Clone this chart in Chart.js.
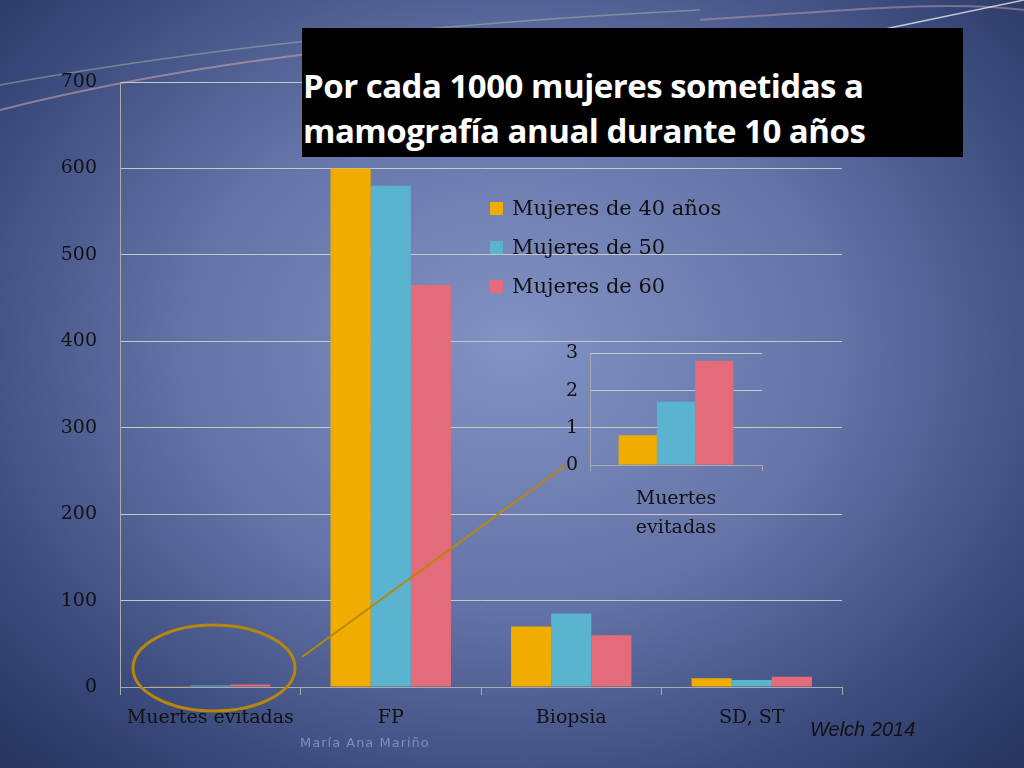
<!DOCTYPE html>
<html><head><meta charset="utf-8">
<script src="https://cdn.jsdelivr.net/npm/chart.js@4/dist/chart.umd.min.js"></script>
<style>
html,body{margin:0;padding:0;}
body{width:1024px;height:768px;overflow:hidden;position:relative;
background:radial-gradient(ellipse 70% 75% at 50% 45%,#8392c4 0%,#6474a8 45%,#3a4a7c 80%,#27355f 100%);}
canvas{position:absolute;}
#title{position:absolute;left:302px;top:28px;width:661px;height:129px;background:#000;color:#fff;
font-family:"Open Sans",sans-serif;font-weight:bold;font-size:33px;letter-spacing:-0.5px;line-height:45px;box-sizing:border-box;padding:35px 0 0 1px;white-space:nowrap;}
#legend{position:absolute;left:490px;top:189px;font-family:"DejaVu Serif",serif;font-size:21px;color:#111;line-height:39px;}
#legend span{display:inline-block;width:13px;height:13px;margin-right:9px;}
#welch{position:absolute;left:810px;top:718px;font-family:"Liberation Sans",sans-serif;font-style:italic;font-size:20px;color:#111;}
#author{position:absolute;left:300px;top:735px;font-family:"DejaVu Sans",sans-serif;font-size:13px;color:#7d8fc0;letter-spacing:1px;}
svg{position:absolute;left:0;top:0;}
</style></head><body>
<svg width="1024" height="768">
<path d="M0,110 C200,60 400,40 600,30" stroke="#c9a0a0" stroke-width="2" fill="none" opacity="0.6"/>
<path d="M0,85 C250,40 500,20 700,10" stroke="#a0c0a0" stroke-width="1.5" fill="none" opacity="0.5"/>
<path d="M700,20 C850,10 950,0 1024,10" stroke="#c0a0b0" stroke-width="2" fill="none" opacity="0.5"/>
<path d="M880,30 C950,15 1000,5 1024,0" stroke="#ffffff" stroke-width="1.5" fill="none" opacity="0.7"/>
</svg>
<canvas id="main" width="1024" height="768" style="left:0;top:0;width:1024px;height:768px"></canvas>
<canvas id="inset" width="240" height="220" style="left:540px;top:330px;width:240px;height:220px"></canvas>
<svg width="1024" height="768">
<ellipse cx="214" cy="668" rx="81" ry="43" stroke="#b8860b" stroke-width="3" fill="none"/>
<line x1="302" y1="657" x2="566" y2="465" stroke="#b8860b" stroke-width="2"/>
</svg>
<div id="title">Por cada 1000 mujeres sometidas a<br>mamografía anual durante 10 años</div>
<div id="legend">
<div><span style="background:#f0ad00"></span>Mujeres de 40 años</div>
<div><span style="background:#5bb4cf"></span>Mujeres de 50</div>
<div><span style="background:#e46b7a"></span>Mujeres de 60</div>
</div>
<div id="welch">Welch 2014</div>
<div id="author">María Ana Mariño</div>
<script>
const categories=["Muertes evitadas","FP","Biopsia","SD, ST"];
const seriesNames=["Mujeres de 40 años","Mujeres de 50","Mujeres de 60"];
const mujeres40=[0.8,600,70,10];
const mujeres50=[1.7,580,85,8];
const mujeres60=[2.8,465,60,12];
const insetCategory=[["Muertes","evitadas"]];
const colors=["#f0ad00","#5bb4cf","#e46b7a"];
const font={family:"DejaVu Serif",size:19};
function ds(vals){return [mujeres40,mujeres50,mujeres60].map((d,i)=>({label:seriesNames[i],data:vals(d),backgroundColor:colors[i],barPercentage:1,categoryPercentage:0.667}));}
new Chart(document.getElementById('main'),{type:'bar',
data:{labels:categories,datasets:ds(d=>d)},
options:{responsive:false,animation:false,layout:{padding:{top:82,right:182,left:0,bottom:0}},
plugins:{legend:{display:false},tooltip:{enabled:false}},
scales:{
y:{min:0,max:700,ticks:{stepSize:100,color:'#111',font,padding:23},border:{color:'#aaa'},grid:{color:'#c8c8c8',drawTicks:false},afterFit:s=>{s.width=120;}},
x:{ticks:{color:'#111',font,padding:12,autoSkip:false,maxRotation:0,minRotation:0},border:{color:'#aaa'},grid:{offset:true,drawOnChartArea:false,color:'#aaa',tickLength:8},afterFit:s=>{s.height=81;}}
}}});
new Chart(document.getElementById('inset'),{type:'bar',
data:{labels:insetCategory,datasets:ds(d=>[d[0]])},
options:{responsive:false,animation:false,layout:{padding:{top:20,right:18,left:0,bottom:0}},
plugins:{legend:{display:false},tooltip:{enabled:false}},
scales:{
y:{min:0,max:3,ticks:{stepSize:1,color:'#111',font:{family:"DejaVu Serif",size:19},padding:12},border:{color:'#aaa'},grid:{color:'#c8c8c8',drawTicks:false},afterFit:s=>{s.width=50;}},
x:{ticks:{color:'#111',font:{family:"DejaVu Serif",size:19,lineHeight:1.5},padding:14,maxRotation:0},border:{color:'#aaa'},grid:{offset:true,drawOnChartArea:false,color:'#aaa',tickLength:6},afterFit:s=>{s.height=85;}}
}}});
</script>
</body></html>
